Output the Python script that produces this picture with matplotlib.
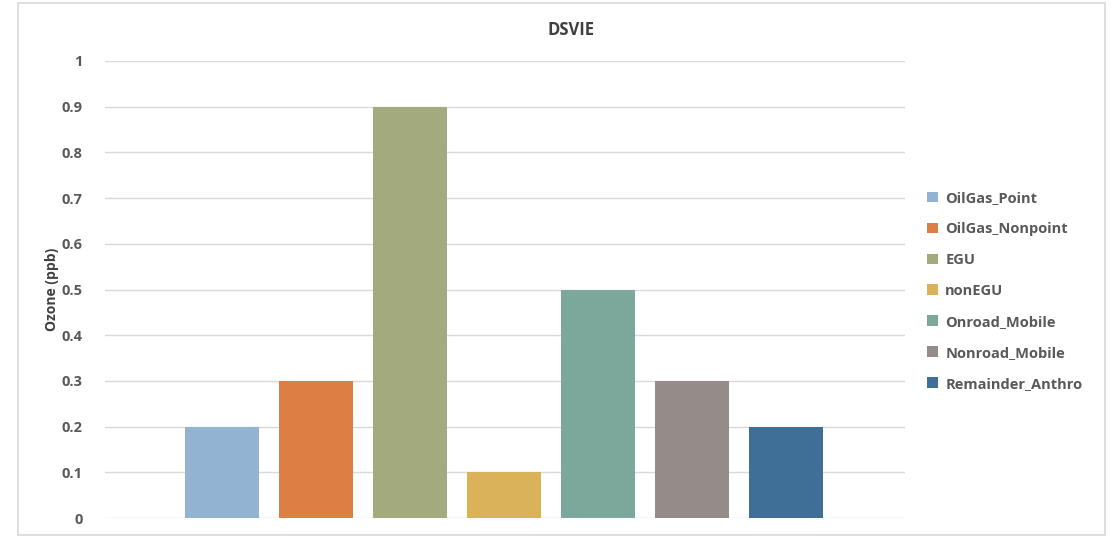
import matplotlib.pyplot as plt
from matplotlib.patches import Rectangle, Patch

plt.rcParams['font.family'] = ['Open Sans', 'DejaVu Sans']

sources = ["OilGas_Point", "OilGas_Nonpoint", "EGU", "nonEGU",
           "Onroad_Mobile", "Nonroad_Mobile", "Remainder_Anthro"]
ozone = [0.2, 0.3, 0.9, 0.1, 0.5, 0.3, 0.2]
colors = ["#93B3D3", "#DD7F45", "#A2AA7E", "#D9B25A",
          "#7CA89B", "#958B89", "#3F6E97"]
yticks = [0, 0.1, 0.2, 0.3, 0.4, 0.5, 0.6, 0.7, 0.8, 0.9, 1]
ytick_labels = ["0", "0.1", "0.2", "0.3", "0.4", "0.5", "0.6", "0.7", "0.8", "0.9", "1"]

W, H = 1112, 538
fig = plt.figure(figsize=(W / 100, H / 100), dpi=100)

# light outer frame around the chart
fig.patches.append(Rectangle((18 / W, 3 / H), (1105 - 18) / W, (535 - 3) / H,
                             transform=fig.transFigure, fill=False,
                             edgecolor="#d9d9d9", linewidth=1.2))

ax = fig.add_axes([105 / W, 1 - 518 / H, 800 / W, (518 - 61) / H])
x = list(range(len(sources)))
ax.bar(x, ozone, width=0.79, color=colors, zorder=3)

ax.set_xlim(-1.245, 7.266)
ax.set_ylim(0, 1)
ax.set_yticks(yticks)
ax.set_yticklabels(ytick_labels)
ax.set_xticks([])
ax.grid(axis="y", color="#d9d9d9", linewidth=1, zorder=0)
for s in ax.spines.values():
    s.set_visible(False)
ax.tick_params(axis="y", length=0, pad=16, labelsize=10.5, labelcolor="#595959")
for lbl in ax.get_yticklabels():
    lbl.set_fontweight("bold")

ax.set_ylabel("Ozone (ppb)", fontsize=10, fontweight="bold", color="#404040", labelpad=2)

fig.text(571 / W, 1 - 30 / H, "DSVIE", ha="center", va="center",
         fontsize=12, fontweight="bold", color="#404040")

handles = [Patch(facecolor=c, edgecolor="none") for c in colors]
leg = fig.legend(handles, sources, loc="upper left",
                 bbox_to_anchor=(914 / W, 1 - 178 / H), frameon=False,
                 handlelength=0.75, handleheight=0.75, handletextpad=0.5,
                 labelspacing=1.16, fontsize=10.5)
for t in leg.get_texts():
    t.set_fontweight("bold")
    t.set_color("#595959")

fig.savefig("out.png", dpi=100)
